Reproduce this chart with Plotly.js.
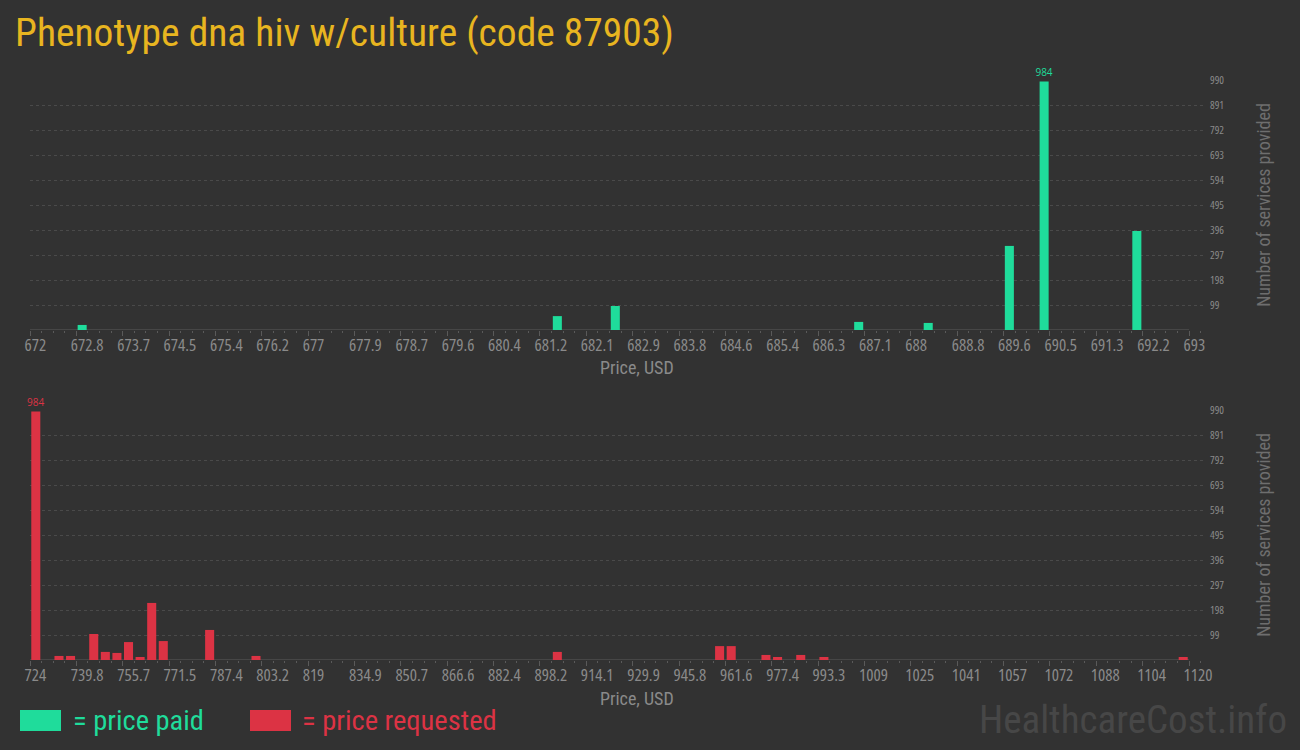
<!DOCTYPE html>
<html>
<head>
<meta charset="utf-8">
<script src="https://cdn.plot.ly/plotly-3.0.1.min.js"></script>
<style>
  html, body { margin: 0; padding: 0; background: #323232; }
  #chart { width: 1300px; height: 750px; }
  /* narrow digits for tick labels and bar values */
  .xtick text, .x2tick text, .ytick text, .y2tick text, .textpoint text { font-stretch: 75%; }
</style>
</head>
<body>
<div id="chart"></div>
<script>
// Price paid: bin centres (USD) and number of services in each bin
const paidPrices = [672.945, 681.555, 682.605, 687.015, 688.275, 689.745, 690.375, 692.055];
const paidCounts = [20, 55, 95, 32, 28, 333, 984, 392];

// Price requested: bin centres (USD) and number of services in each bin
const requestedPrices = [725.98, 733.90, 737.86, 745.78, 749.74, 753.70, 757.66, 761.62, 765.58, 769.54,
                         785.38, 801.22, 904.18, 959.62, 963.58, 975.46, 979.42, 987.34, 995.26, 1118.02];
const requestedCounts = [984, 16, 16, 103, 32, 28, 71, 12, 226, 75,
                         119, 16, 32, 55, 55, 20, 12, 20, 12, 12];

// Axis tick labels
const paidTickLabels = ['672', '672.8', '673.7', '674.5', '675.4', '676.2', '677', '677.9', '678.7', '679.6',
                        '680.4', '681.2', '682.1', '682.9', '683.8', '684.6', '685.4', '686.3', '687.1', '688',
                        '688.8', '689.6', '690.5', '691.3', '692.2', '693'];
const requestedTickLabels = ['724', '739.8', '755.7', '771.5', '787.4', '803.2', '819', '834.9', '850.7', '866.6',
                             '882.4', '898.2', '914.1', '929.9', '945.8', '961.6', '977.4', '993.3', '1009', '1025',
                             '1041', '1057', '1072', '1088', '1104', '1120'];
const countTicks = [99, 198, 297, 396, 495, 594, 693, 792, 891, 990];

const paidRange = [672, 693];
const requestedRange = [724, 1120];

const GREEN = '#1fdc9b';
const RED = '#dc3344';
const BG = '#323232';
const TICK_FONT = 'Open Sans, sans-serif';
const TEXT_FONT = 'Roboto Condensed, Roboto, sans-serif';

// Evenly spaced tick positions across a price range, one per label
function tickPositions(range, labels) {
  const step = (range[1] - range[0]) / (labels.length - 1);
  return labels.map((_, i) => range[0] + step * i);
}

// Label only the tallest bar with its count
function peakText(counts) {
  const peak = Math.max(...counts);
  return counts.map(c => (c === peak ? String(c) : ''));
}

// The plot area runs a little past the last price tick so grid lines reach the count labels
const PLOT_LEFT = 30, PLOT_RIGHT = 1206, AXIS_END = 1189;
function paddedRange(range) {
  const perPx = (range[1] - range[0]) / (AXIS_END - PLOT_LEFT);
  return [range[0], range[0] + perPx * (PLOT_RIGHT - PLOT_LEFT)];
}

const paidBin = (paidRange[1] - paidRange[0]) / 100;
const requestedBin = (requestedRange[1] - requestedRange[0]) / 100;

const traces = [
  {
    type: 'bar', x: paidPrices, y: paidCounts, xaxis: 'x', yaxis: 'y',
    width: paidBin * 0.78, marker: { color: GREEN },
    text: peakText(paidCounts), textposition: 'outside', cliponaxis: false, constraintext: 'none',
    textfont: { family: TICK_FONT, size: 10, color: GREEN },
    showlegend: false, hoverinfo: 'x+y'
  },
  {
    type: 'bar', x: requestedPrices, y: requestedCounts, xaxis: 'x2', yaxis: 'y2',
    width: requestedBin * 0.78, marker: { color: RED },
    text: peakText(requestedCounts), textposition: 'outside', cliponaxis: false, constraintext: 'none',
    textfont: { family: TICK_FONT, size: 10, color: RED },
    showlegend: false, hoverinfo: 'x+y'
  }
];

function priceAxis(range, labels, anchor) {
  return {
    anchor: anchor,
    domain: [PLOT_LEFT / 1300, PLOT_RIGHT / 1300],
    range: paddedRange(range),
    tickmode: 'array',
    tickvals: tickPositions(range, labels),
    ticktext: labels,
    tickangle: 0,
    ticks: 'outside', ticklen: 5, tickwidth: 1, tickcolor: '#5a5a5a',
    ticklabelposition: 'outside right',
    ticklabelshift: -6,
    tickfont: { family: TICK_FONT, size: 17, color: '#8a8a8a' },
    minor: {
      tickmode: 'linear', tick0: range[0], dtick: (range[1] - range[0]) / 100,
      ticks: 'outside', ticklen: 2, tickwidth: 1, tickcolor: '#5a5a5a', showgrid: false
    },
    showgrid: false, zeroline: false, showline: false, fixedrange: true
  };
}

function countAxis(anchor, domain) {
  return {
    anchor: anchor, side: 'right', domain: domain,
    range: [0, 990],
    tickmode: 'array', tickvals: countTicks,
    ticks: '', ticklabelstandoff: 3,
    tickfont: { family: TICK_FONT, size: 11, color: '#8a8a8a' },
    showgrid: true, gridcolor: '#4a4a4a', gridwidth: 1, griddash: '3px,3px',
    zeroline: false, showline: false, fixedrange: true,
    title: {
      text: 'Number of services provided', standoff: 34,
      font: { family: TEXT_FONT, size: 18, color: '#6e6e6e' }
    }
  };
}

// Base line of each price axis, ending at the last tick
function baseLine(xref, yref, range) {
  return {
    type: 'line', xref: xref, yref: yref, x0: range[0], x1: range[1], y0: 0, y1: 0,
    line: { color: '#5a5a5a', width: 1 }, layer: 'below'
  };
}

const layout = {
  width: 1300, height: 750,
  paper_bgcolor: BG, plot_bgcolor: BG,
  margin: { l: 0, r: 0, t: 0, b: 0 },
  title: {
    text: 'Phenotype dna hiv w/culture (code 87903)',
    x: 15 / 1300, xanchor: 'left', xref: 'paper',
    y: 1 - 32 / 750, yanchor: 'middle', yref: 'container',
    font: { family: TEXT_FONT, size: 39.5, color: '#e8b520' }
  },
  xaxis: priceAxis(paidRange, paidTickLabels, 'y'),
  yaxis: countAxis('x', [1 - 330 / 750, 1 - 80 / 750]),
  xaxis2: priceAxis(requestedRange, requestedTickLabels, 'y2'),
  yaxis2: countAxis('x2', [1 - 660 / 750, 1 - 410 / 750]),
  shapes: [
    baseLine('x', 'y', paidRange),
    baseLine('x2', 'y2', requestedRange),
    // legend swatches
    { type: 'rect', xref: 'paper', yref: 'paper', x0: 20 / 1300, x1: 61 / 1300,
      y0: 1 - 731 / 750, y1: 1 - 710 / 750, fillcolor: GREEN, line: { width: 0 } },
    { type: 'rect', xref: 'paper', yref: 'paper', x0: 250 / 1300, x1: 291 / 1300,
      y0: 1 - 731 / 750, y1: 1 - 710 / 750, fillcolor: RED, line: { width: 0 } }
  ],
  annotations: [
    { text: 'Price, USD', xref: 'paper', yref: 'paper', x: 637 / 1300, y: 1 - 368 / 750,
      xanchor: 'center', yanchor: 'middle', showarrow: false,
      font: { family: TEXT_FONT, size: 18, color: '#8a8a8a' } },
    { text: 'Price, USD', xref: 'paper', yref: 'paper', x: 637 / 1300, y: 1 - 698 / 750,
      xanchor: 'center', yanchor: 'middle', showarrow: false,
      font: { family: TEXT_FONT, size: 18, color: '#8a8a8a' } },
    { text: '= price paid', xref: 'paper', yref: 'paper', x: 71 / 1300, y: 1 - 720 / 750,
      xanchor: 'left', yanchor: 'middle', showarrow: false,
      font: { family: TEXT_FONT, size: 28.5, color: GREEN } },
    { text: '= price requested', xref: 'paper', yref: 'paper', x: 300 / 1300, y: 1 - 720 / 750,
      xanchor: 'left', yanchor: 'middle', showarrow: false,
      font: { family: TEXT_FONT, size: 28.5, color: RED } },
    { text: 'HealthcareCost.info', xref: 'paper', yref: 'paper', x: 1289 / 1300, y: 1 - 720 / 750,
      xanchor: 'right', yanchor: 'middle', showarrow: false,
      font: { family: TEXT_FONT, size: 39, color: '#474747' } }
  ]
};

Plotly.newPlot('chart', traces, layout, { displayModeBar: false, staticPlot: true });
</script>
</body>
</html>
